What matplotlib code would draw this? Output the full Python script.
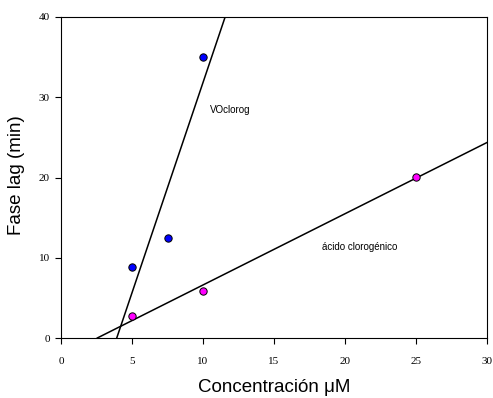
import numpy as np
import matplotlib
matplotlib.use("Agg")
import matplotlib.pyplot as plt

# Lag phase vs. concentration for two compounds
vo_conc = [5, 7.5, 10]
vo_lag = [8.8, 12.4, 35.0]
acido_conc = [5, 10, 25]
acido_lag = [2.7, 5.9, 20.1]

xticks = [0, 5, 10, 15, 20, 25, 30]
yticks = [0, 10, 20, 30, 40]

W, H = 493, 398
fig = plt.figure(figsize=(W / 100, H / 100), dpi=100)
ax = fig.add_axes([61 / W, 1 - 338 / H, 426 / W, 321 / H])
ax.set_xlim(0, 30)
ax.set_ylim(0, 40)


def fit_line(x, y, color):
    slope, intercept = np.polyfit(x, y, 1)
    x0 = -intercept / slope
    xs = np.array([x0, 30.0])
    ax.plot(xs, slope * xs + intercept, color="black", lw=1.1, zorder=2)
    ax.scatter(x, y, s=28, color=color, edgecolor="black", linewidth=0.7, zorder=3)


fit_line(vo_conc, vo_lag, "#0000ff")
fit_line(acido_conc, acido_lag, "#ff00ff")

ax.text(10.5, 28.4, "VOclorog", fontsize=7, family="Liberation Sans", va="center", ha="left")
ax.text(18.4, 11.4, "ácido clorogénico", fontsize=7, family="Liberation Sans", va="center", ha="left")

ax.set_xticks(xticks)
ax.set_yticks(yticks)
ax.tick_params(direction="out", length=4, width=0.8, labelsize=8, pad=10)
for lab in ax.get_xticklabels() + ax.get_yticklabels():
    lab.set_family("Liberation Serif")
ax.tick_params(axis="y", pad=4)

for s in ax.spines.values():
    s.set_linewidth(0.8)

fig.text(17 / W, 1 - 175 / H, "Fase lag (min)", fontsize=13.5, family="Liberation Sans",
         rotation=90, ha="center", va="center")
fig.text(274 / W, 1 - 388 / H, "Concentración μM", fontsize=13.5, family="Liberation Sans",
         ha="center", va="center")

fig.savefig("out.png", dpi=100)
